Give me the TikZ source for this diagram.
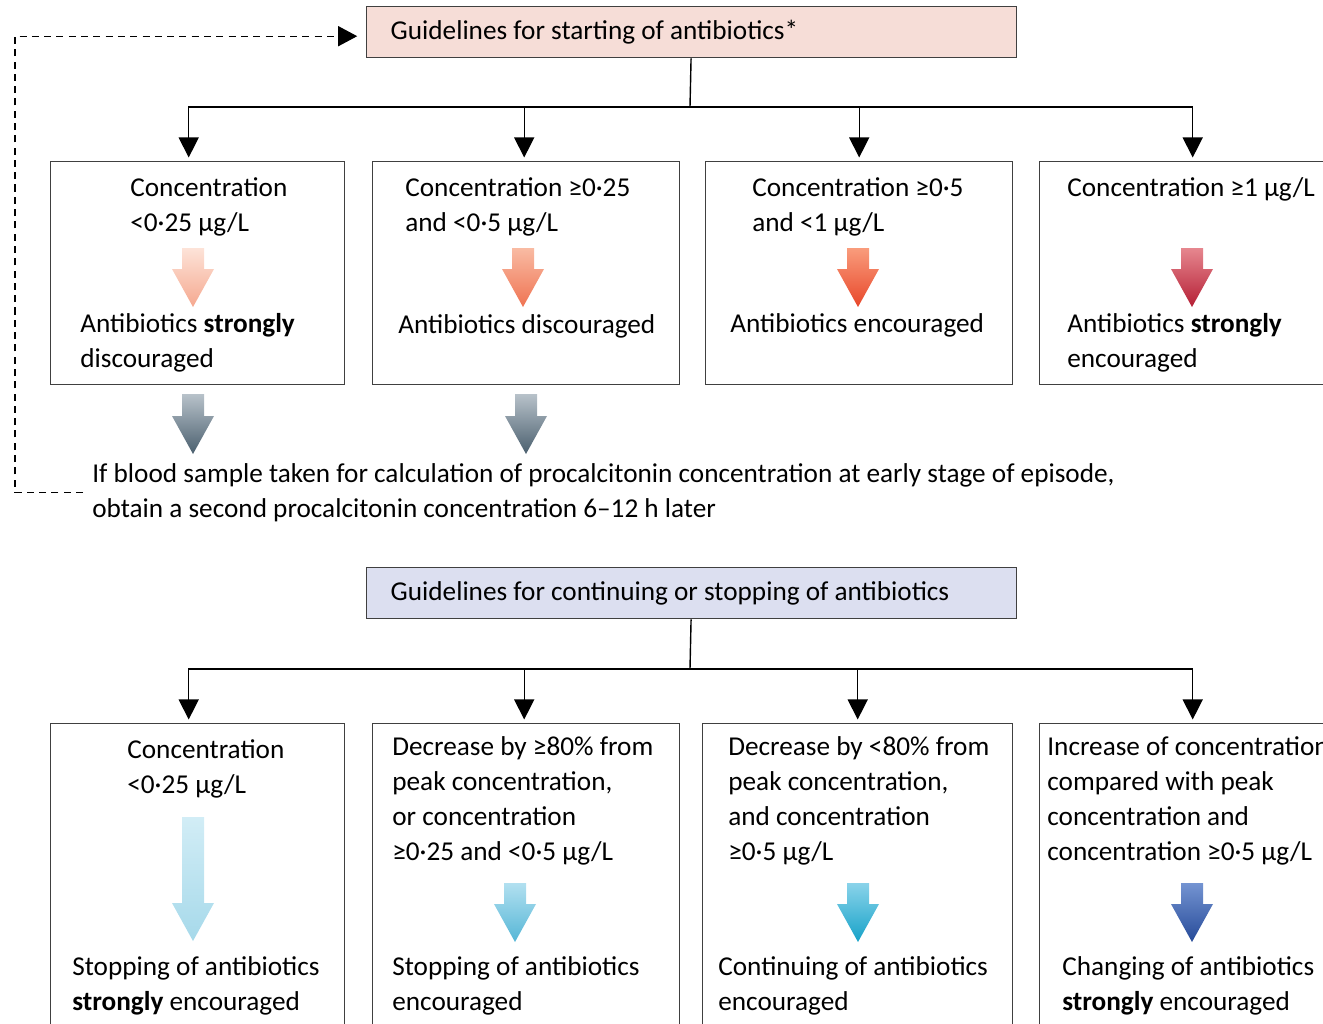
\documentclass[tikz,border=0pt]{standalone}
\usepackage{fontspec}
\setmainfont{Carlito}
\usetikzlibrary{arrows.meta,positioning,calc}

\definecolor{startfill}{HTML}{F6DDD7}
\definecolor{contfill}{HTML}{DCDFF0}
\definecolor{redA1}{HTML}{FDE3D8}\definecolor{redA2}{HTML}{F5A88F}
\definecolor{redB1}{HTML}{F9BBA3}\definecolor{redB2}{HTML}{EF7352}
\definecolor{redC1}{HTML}{F99C7C}\definecolor{redC2}{HTML}{E8472A}
\definecolor{redD1}{HTML}{E6878F}\definecolor{redD2}{HTML}{B51F35}
\definecolor{slate1}{HTML}{B8C2CA}\definecolor{slate2}{HTML}{4A5F6E}
\definecolor{blueA1}{HTML}{D2EDF6}\definecolor{blueA2}{HTML}{A6D9EA}
\definecolor{blueB1}{HTML}{B2E0F0}\definecolor{blueB2}{HTML}{55B6D6}
\definecolor{blueC1}{HTML}{8AD3EA}\definecolor{blueC2}{HTML}{16A2C8}
\definecolor{blueD1}{HTML}{7494D2}\definecolor{blueD2}{HTML}{264A98}

% shaded block arrow: x, top, tip, top colour, bottom colour
\newcommand{\blockarrow}[5]{%
  \path[top color=#4, bottom color=#5]
    (#1-11,#2) -- (#1+11,#2) -- (#1+11,#3-38) -- (#1+21,#3-38) -- (#1,#3)
    -- (#1-21,#3-38) -- (#1-11,#3-38) -- cycle;}

\begin{document}
\begin{tikzpicture}[x=0.02cm, y=-0.02cm,
  box/.style={draw=black!75, line width=0.8pt, anchor=north west, inner sep=0pt},
  title/.style={box, minimum width=13cm, minimum height=1.02cm, text width=12.04cm,
    inner xsep=0.48cm, align=flush left, font=\fontsize{15.5}{19.9}\selectfont},
  txt/.style={anchor=north west, inner sep=0pt, align=left, font=\fontsize{15.5}{19.9}\selectfont},
  conn/.style={line width=0.8pt, -{Triangle[length=0.4cm,width=0.4cm]}, shorten >=2pt},
  ]
	\useasboundingbox (0,0) rectangle (1323,1024);
	\clip (0,0) rectangle (1323,1024);
	
	% starting of antibiotics
	\node [title, fill=startfill] (title-start) at (366,6) {Guidelines for starting of antibiotics*};
	
	\foreach \n/\x/\w in {1/50/294, 2/372/307, 3/705/307, 4/1039/306}
	\node [box, minimum width=\w*0.02cm, minimum height=4.46cm] (start-\n) at (\x,161) {};
	
	\coordinate (hub-s) at (690,107);
	\draw [line width=0.8pt] (title-start) -- (hub-s);
	\foreach \n/\dx in {1/-9, 2/-2, 3/0, 4/0}
	\draw [conn] (hub-s) -| ([xshift=\dx*0.02cm]start-\n.north);
	
	\node [txt] (start-1-if) at (130,177) {Concentration\\<0·25 µg/L};
	\node [txt] (start-1-then) at (80,313) {Antibiotics \textbf{strongly}\\discouraged};
	\node [txt] (start-2-if) at (405,177) {Concentration ≥0·25\\and <0·5 µg/L};
	\node [txt] (start-2-then) at (398,314) {Antibiotics discouraged};
	\node [txt] (start-3-if) at (752,177) {Concentration ≥0·5\\and <1 µg/L};
	\node [txt] (start-3-then) at (730,313) {Antibiotics encouraged};
	\node [txt] (start-4-if) at (1067,177) {Concentration ≥1 µg/L};
	\node [txt] (start-4-then) at (1067,313) {Antibiotics \textbf{strongly}\\encouraged};
	
	\blockarrow{193}{248}{307}{redA1}{redA2}
	\blockarrow{523}{248}{307}{redB1}{redB2}
	\blockarrow{858}{248}{307}{redC1}{redC2}
	\blockarrow{1192}{248}{307}{redD1}{redD2}
	
	% second measurement
	\blockarrow{193}{394}{454}{slate1}{slate2}
	\blockarrow{526}{394}{454}{slate1}{slate2}
	
	\node [txt] (note) at (92,463) {If blood sample taken for calculation of procalcitonin concentration at early stage of episode,\\obtain a second procalcitonin concentration 6–12 h later};
	\draw [line width=0.7pt, dash pattern=on 4pt off 3pt, -{Triangle[length=0.38cm,width=0.4cm]}, shorten >=5pt]
	([xshift=-9*0.02cm]note.west) -- ++(-68,0) |- ([yshift=-4*0.02cm]title-start.west);
	
	% continuing or stopping of antibiotics
	\node [title, fill=contfill] (title-cont) at (366,567) {Guidelines for continuing or stopping of antibiotics};
	
	\foreach \n/\x/\w in {1/50/294, 2/372/307, 3/702/310, 4/1039/306}
	\node [box, minimum width=\w*0.02cm, minimum height=6.5cm] (cont-\n) at (\x,723) {};
	
	\coordinate (hub-c) at (690,669);
	\draw [line width=0.8pt] (title-cont) -- (hub-c);
	\foreach \n/\dx in {1/-9, 2/-2, 3/0, 4/0}
	\draw [conn] (hub-c) -| ([xshift=\dx*0.02cm]cont-\n.north);
	
	\node [txt] (cont-1-if) at (127,739) {Concentration\\<0·25 µg/L};
	\node [txt] (cont-1-then) at (72,956) {Stopping of antibiotics\\\textbf{strongly} encouraged};
	\node [txt] (cont-2-if) at (392,736) {Decrease by ≥80\% from\\peak concentration,\\or concentration\\≥0·25 and <0·5 µg/L};
	\node [txt] (cont-2-then) at (392,956) {Stopping of antibiotics\\encouraged};
	\node [txt] (cont-3-if) at (728,736) {Decrease by <80\% from\\peak concentration,\\and concentration\\≥0·5 µg/L};
	\node [txt] (cont-3-then) at (718,956) {Continuing of antibiotics\\encouraged};
	\node [txt] (cont-4-if) at (1047,736) {Increase of concentration\\compared with peak\\concentration and\\concentration ≥0·5 µg/L};
	\node [txt] (cont-4-then) at (1062,956) {Changing of antibiotics\\\textbf{strongly} encouraged};
	
	\blockarrow{193}{817}{941}{blueA1}{blueA2}
	\blockarrow{515}{883}{942}{blueB1}{blueB2}
	\blockarrow{858}{883}{942}{blueC1}{blueC2}
	\blockarrow{1192}{883}{942}{blueD1}{blueD2}
	
\end{tikzpicture}
\end{document}
